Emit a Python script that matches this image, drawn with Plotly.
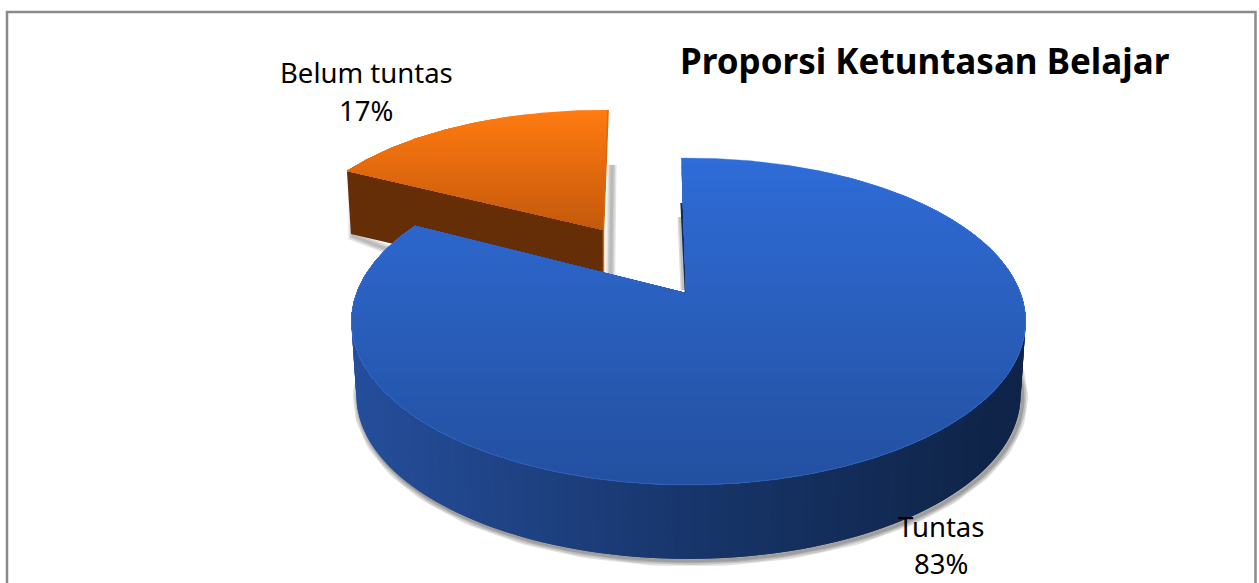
import numpy as np
import plotly.graph_objects as go

TITLE = "Proporsi Ketuntasan Belajar"
CATEGORIES = ["Tuntas", "Belum tuntas"]
VALUES = [83, 17]

W, H = 1259, 583
shares = np.array(VALUES, dtype=float) / sum(VALUES) * 360.0
K = 0.174  # perspective strength


def face(ax, ay, rx, ry, t0, t1, n=240):
    """Project a disc arc (clockwise degrees from 12 o'clock) into the picture."""
    t = np.radians(np.linspace(t0, t1, n))
    u, v = np.sin(t), np.cos(t)
    w = 1 + K * v
    return ax + rx * u / w, ay - ry * v / w


def clip_below(xs, ys, y0):
    """Keep the part of a polygon that lies below the line y = y0."""
    ox, oy = [], []
    m = len(xs)
    for i in range(m):
        x1, y1, x2, y2 = xs[i], ys[i], xs[(i + 1) % m], ys[(i + 1) % m]
        in1, in2 = y1 >= y0, y2 >= y0
        if in1:
            ox.append(x1)
            oy.append(y1)
        if in1 != in2:
            f = (y0 - y1) / (y2 - y1)
            ox.append(x1 + f * (x2 - x1))
            oy.append(y0)
    return ox, oy


def mix(c1, c2, f):
    return "rgb(%d,%d,%d)" % tuple(round(a + (b - a) * f) for a, b in zip(c1, c2))


fig = go.Figure()


def poly(xs, ys, color):
    fig.add_trace(go.Scatter(x=list(xs), y=list(ys), mode="lines", fill="toself",
                             fillcolor=color, line=dict(width=0, color=color),
                             hoverinfo="skip", showlegend=False))


def stroke(xs, ys, color, width):
    fig.add_trace(go.Scatter(x=list(xs), y=list(ys), mode="lines",
                             line=dict(width=width, color=color),
                             hoverinfo="skip", showlegend=False))


def gradient(xs, ys, top, bottom, c1, c2, bands):
    for i in range(bands):
        y0 = top + (bottom - top) * i / bands
        cx, cy = clip_below(list(xs), list(ys), y0)
        if len(cx) > 2:
            poly(cx, cy, mix(c1, c2, i / (bands - 1)))


# ---- Belum tuntas slice (pulled out, sits behind) ----
OA = (603.5, 230)
o_start, o_end = 360 - shares[1] - 2, 361
ox, oy = face(OA[0], OA[1], 310, 141, o_start, o_end, 80)
ODEPTH = 63
# soft shadow under the slice
for wd in (9, 6, 3):
    stroke([ox[0] + 6, ox[0] + 6, OA[0]], [oy[0] + 8, oy[0] + ODEPTH + 2, OA[1] + ODEPTH + 40],
           "rgba(90,90,90,0.16)", wd)
    stroke([ox[-1] + 4, OA[0] + 7], [oy[-1] + 55, OA[1] + ODEPTH], "rgba(90,90,90,0.16)", wd)
# inner wall
poly([ox[0], OA[0], OA[0], ox[0] + 4],
     [oy[0], OA[1], OA[1] + ODEPTH, oy[0] + ODEPTH], "#652e06")
gx = np.r_[OA[0], ox]
gy = np.r_[OA[1], oy]
gradient(gx, gy, oy.min(), OA[1], (255, 122, 16), (196, 90, 12), 26)
stroke([ox[-1], OA[0], OA[0]], [oy[-1], OA[1], OA[1] + 42], "#d96a0e", 1.5)

# ---- Tuntas slice ----
BA = (686, 293)       # wedge tip
BC = 688.5            # horizontal centre of the disc
RX, RY, DEPTH = 332, 158.5, 74
b_start, b_end = -1.5, shares[0] - 1.5
bx, by = face(BC, BA[1], RX, RY, b_start, b_end, 420)


def lower(x, y):
    return BC + (np.asarray(x) - BC) * 0.985, np.asarray(y) + DEPTH


# wall outer arc, only the part facing the viewer
wt = np.linspace(83, 272, 150)
wx, wy = face(BC, BA[1], RX, RY, wt[0], wt[-1], 150)
lx, ly = lower(wx, wy)
for wd in (11, 8, 5, 3):
    stroke(lx + 2, ly + 2, "rgba(70,70,70,0.17)", wd)

W_LEFT, W_MID, W_RIGHT = (37, 78, 155), (24, 54, 108), (15, 36, 72)
for i in range(len(wx) - 1):
    f = (wx[i] - wx.min()) / (wx.max() - wx.min())
    col = mix(W_LEFT, W_MID, f * 2) if f < 0.5 else mix(W_MID, W_RIGHT, min(1, (f - 0.5) * 2.2))
    j = min(i + 2, len(wx) - 1)
    poly([wx[i], wx[j], lx[j], lx[i]], [wy[i], wy[j], ly[j], ly[i]], col)

# shadow and dark inner edge beside the gap
for wd in (7, 4):
    stroke([BA[0] - 5, BA[0] - 2], [217, BA[1] - 3], "rgba(90,90,90,0.22)", wd)
stroke([bx[0] + 0.5, BA[0]], [by[0] + 45, BA[1]], "#122c5c", 2.5)

tx = np.r_[BA[0], bx]
ty = np.r_[BA[1], by]
gradient(tx, ty, by.min(), by.max(), (47, 108, 215), (35, 80, 160), 44)
stroke(bx, by, "rgba(80,135,235,0.35)", 1)

# ---- Text ----
labels = [
    (CATEGORIES[1], 366, 72, 27.5), (f"{VALUES[1]}%", 366, 110, 27.5),
    (CATEGORIES[0], 941, 526, 27.5), (f"{VALUES[0]}%", 941, 563, 27.5),
]
annotations = [dict(x=x, y=y, text=t, showarrow=False, xanchor="center", yanchor="middle",
                    font=dict(family="Noto Sans", size=s, color="black"))
               for t, x, y, s in labels]
annotations.append(dict(x=925, y=60, text=f"<b>{TITLE}</b>", showarrow=False,
                        xanchor="center", yanchor="middle",
                        font=dict(family="Noto Sans", size=35, color="black")))

fig.update_layout(
    width=W, height=H, margin=dict(l=0, r=0, t=0, b=0),
    paper_bgcolor="white", plot_bgcolor="white", showlegend=False,
    xaxis=dict(range=[0, W], visible=False, fixedrange=True),
    yaxis=dict(range=[H, 0], visible=False, fixedrange=True),
    annotations=annotations,
    shapes=[dict(type="path", path=f"M 7 {H} L 7 12 L 1255.5 12 L 1255.5 {H}",
                 line=dict(color="#8a8a8a", width=2.5))],
)
fig.write_html("out.html", config=dict(displayModeBar=False),
               post_script="document.body.style.margin='0';document.body.style.overflow='hidden';")
